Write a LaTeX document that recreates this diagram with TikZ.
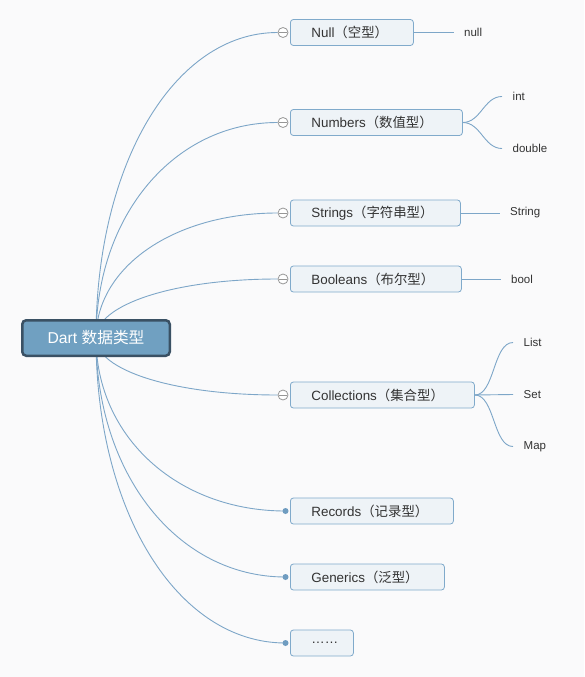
\documentclass[tikz,border=0pt]{standalone}
\usepackage{fontspec}
\setmainfont{Liberation Sans}
\newfontfamily\cjk{Noto Sans CJK SC}
\usetikzlibrary{backgrounds}
\definecolor{bg}{RGB}{250,250,251}
\definecolor{linec}{RGB}{125,166,200}
\definecolor{boxfill}{RGB}{238,243,247}
\definecolor{boxdraw}{RGB}{128,170,203}
\definecolor{rootfill}{RGB}{112,160,193}
\definecolor{rootdraw}{RGB}{58,81,100}
\definecolor{txt}{RGB}{51,51,51}
\definecolor{markc}{RGB}{150,150,150}
\definecolor{dotc}{RGB}{111,156,192}
\begin{document}
\begin{tikzpicture}[x=1pt,y=-1pt,
  branch/.style={draw=linec, line width=0.9pt},
  topic/.style={draw=boxdraw, fill=boxfill, rounded corners=3pt, line width=0.8pt,
    anchor=west, minimum height=26pt, inner xsep=21pt, inner ysep=0pt, align=left,
    font=\fontsize{13.4}{15}\selectfont, text=txt},
  leaf/.style={anchor=west, inner xsep=10.5pt, inner ysep=2pt,
    font=\fontsize{11.5}{13}\selectfont, text=txt},
  rootbox/.style={draw=rootdraw, fill=rootfill, line width=2.5pt, rounded corners=4pt,
    minimum width=147.5pt, minimum height=35.5pt, inner sep=0pt, text=white,
    font=\fontsize{15.7}{18}\selectfont},
  collapse/.style={circle, draw=markc, fill=white, line width=0.8pt, minimum size=10pt,
    inner sep=0pt, path picture={\draw[markc, line width=0.8pt]
      ([xshift=1pt]path picture bounding box.west) -- ([xshift=-1pt]path picture bounding box.east);}},
  dotmark/.style={circle, fill=dotc, minimum size=6pt, inner sep=0pt},
]
\begin{scope}[on background layer]
  \fill[bg] (0,0) rectangle (584,677);
\end{scope}
\useasboundingbox (0,0) rectangle (584,677);

% root
\node[rootbox] (root) at (96,338) {Dart \cjk{数据类型}};

% topics
\node[topic, text width=81pt]  (t1) at (290,32.5) {Null\cjk{（空型）}};
\node[topic, text width=130pt] (t2) at (290,122.5) {Numbers\cjk{（数值型）}};
\node[topic, text width=128pt] (t3) at (290,213) {Strings\cjk{（字符串型）}};
\node[topic, text width=129pt] (t4) at (290,279) {Booleans\cjk{（布尔型）}};
\node[topic, text width=142pt] (t5) at (290,395) {Collections\cjk{（集合型）}};
\node[topic, text width=121pt] (t6) at (290,511) {Records\cjk{（记录型）}};
\node[topic, text width=112pt] (t7) at (290,577) {Generics\cjk{（泛型）}};
\node[topic, text width=21pt]  (t8) at (290,643) {……};

% markers
\node[collapse] (m1) at (283,32.5) {};
\node[collapse] (m2) at (283,122.5) {};
\node[collapse] (m3) at (283,213) {};
\node[collapse] (m4) at (283,279) {};
\node[collapse] (m5) at (283,395) {};
\node[dotmark] (m6) at (285.5,511) {};
\node[dotmark] (m7) at (285.5,577) {};
\node[dotmark] (m8) at (285.5,643) {};

% leaves
\node[leaf] (l1) at (453.5,32.5) {null};
\node[leaf] (l2a) at (502,96.5) {int};
\node[leaf] (l2b) at (502,148.5) {double};
\node[leaf] (l3) at (499.5,213) {String};
\node[leaf] (l4) at (500.5,279) {bool};
\node[leaf] (l5a) at (513,342.5) {List};
\node[leaf] (l5b) at (513,394.5) {Set};
\node[leaf] (l5c) at (513,446.5) {Map};

\begin{scope}[on background layer]
  \draw[branch] (root.center) .. controls (96,163.9) and (174.3,32.5) .. (m1.west);
  \draw[branch] (root.center) .. controls (96,215.2) and (174.3,122.5) .. (m2.west);
  \draw[branch] (root.center) .. controls (96,266.75) and (174.3,213) .. (m3.west);
  \draw[branch] (root.center) .. controls (96,304.4) and (174.3,279) .. (m4.west);
  \draw[branch] (root.center) .. controls (96,370.5) and (174.3,395) .. (m5.west);
  \draw[branch] (root.center) .. controls (96,436.6) and (177.5,511) .. (m6.center);
  \draw[branch] (root.center) .. controls (96,474.2) and (177.5,577) .. (m7.center);
  \draw[branch] (root.center) .. controls (96,511.9) and (177.5,643) .. (m8.center);
\end{scope}

% sub-branches
\draw[branch] (t1.east) -- (l1.west);
\draw[branch] (t2.east) .. controls +(18,0) and +(-18,0) .. (l2a.west);
\draw[branch] (t2.east) .. controls +(18,0) and +(-18,0) .. (l2b.west);
\draw[branch] (t3.east) -- (l3.west);
\draw[branch] (t4.east) -- (l4.west);
\draw[branch] (t5.east) .. controls +(20,0) and +(-20,0) .. (l5a.west);
\draw[branch] (t5.east) -- (l5b.west);
\draw[branch] (t5.east) .. controls +(20,0) and +(-20,0) .. (l5c.west);
\end{tikzpicture}
\end{document}
